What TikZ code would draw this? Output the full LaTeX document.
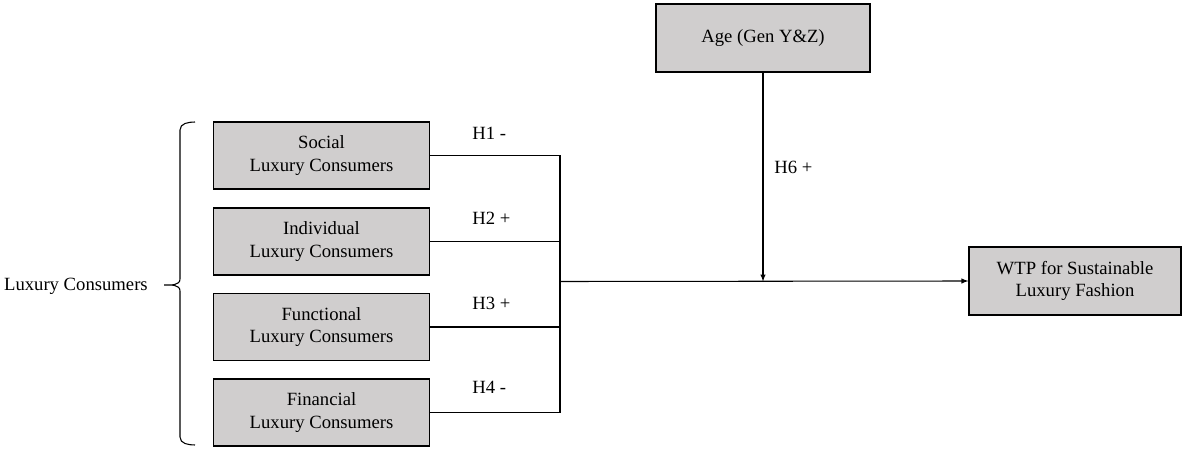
\documentclass[tikz,border=0pt]{standalone}
\usepackage{fontspec}
\setmainfont{Liberation Serif}
\usepackage{xcolor}
\usetikzlibrary{positioning,arrows,calc}
\definecolor{boxgray}{RGB}{208,206,206}
\begin{document}
\begin{tikzpicture}[x=0.75pt,y=-0.75pt,font=\fontsize{14}{16.8}\selectfont,
    fac/.style={draw,line width=0.9pt,fill=boxgray,align=center,minimum width=162pt,minimum height=50.3pt,inner sep=0pt},
    hyp/.style={anchor=west,inner sep=0pt}]
           \useasboundingbox (0,0) rectangle (1184,449);
           \node[fac] (soc) at (321.5,155.5) {Social\\Luxury Consumers};
           \node[fac] (ind) at (321.5,241.5) {Individual\\Luxury Consumers};
           \node[fac] (fun) at (321.5,327) {Functional\\Luxury Consumers};
           \node[fac] (fin) at (321.5,412.5) {Financial\\Luxury Consumers};
           \node[fac,minimum width=160.5pt,minimum height=51pt] (age) at (763,38) {Age (Gen Y\&Z)};
           \node[fac,minimum width=159pt,minimum height=51pt] (wtp) at (1075,281) {WTP for Sustainable\\Luxury Fashion};
           \node[anchor=east,inner sep=0pt] (lux) at (148,286) {Luxury Consumers};
           \coordinate (j) at (560,281.5); %junction
           \coordinate (tip) at (164,285); %brace tip
           % brace round the four groups
           \draw[line width=0.8pt] (195,122) to[out=180,in=90] (180,130) -- (180,279) to[out=-90,in=0] (tip)
                 to[out=0,in=90] (180,291) -- (180,437) to[out=-90,in=180] (195,445);
           \draw[line width=0.8pt] (soc.east) -| (j);
           \draw[line width=0.8pt] (fin.east) -| (j);
           \draw[line width=0.8pt] (ind.east) -- (ind.east -| j);
           \draw[line width=0.8pt] (fun.east) -- (fun.east -| j);
           \draw[->,>=latex,line width=0.8pt] (j) -- (wtp.west);
           \draw[->,>=latex,line width=0.8pt] (age.south) -- (age.south |- j);
           \node[hyp] (h1) at (472,133) {H1 -};
           \node[hyp] (h2) at (472,218) {H2 +};
           \node[hyp] (h3) at (472,303) {H3 +};
           \node[hyp] (h4) at (472,387) {H4 -};
           \node[hyp] (h6) at (774,167) {H6 +};
\end{tikzpicture}
\end{document}
